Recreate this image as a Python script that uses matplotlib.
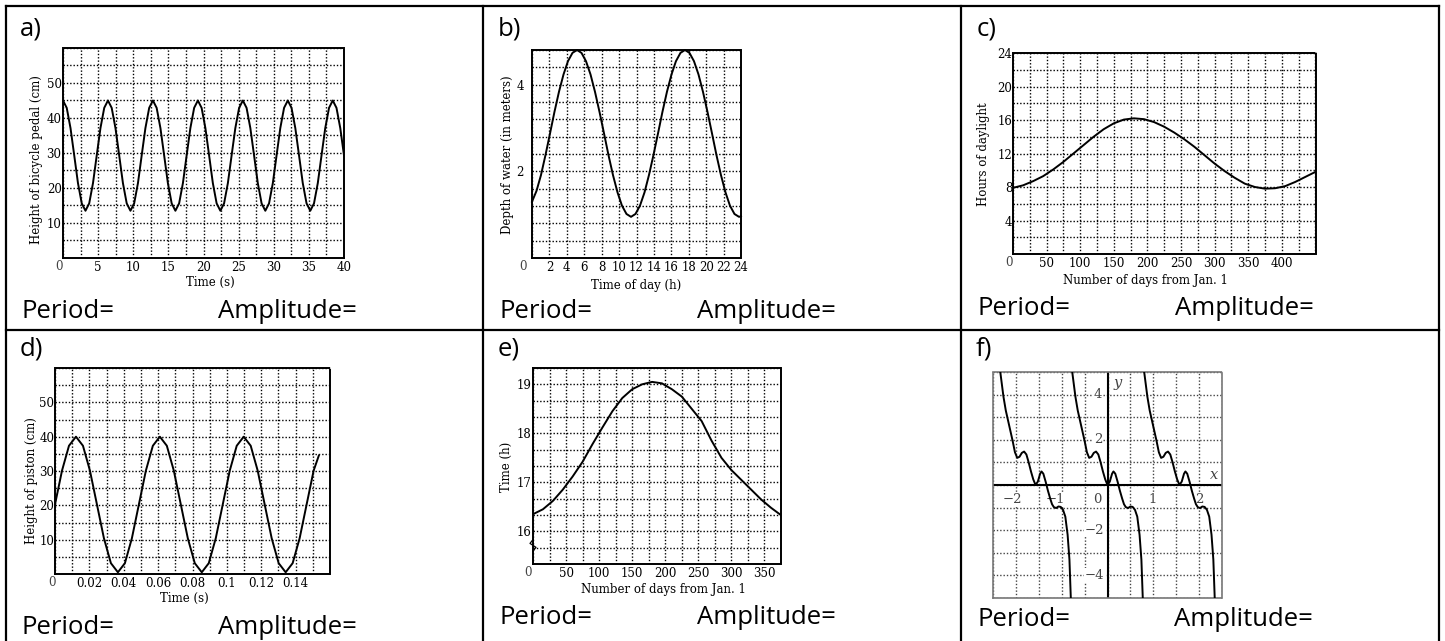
import numpy as np
import matplotlib
matplotlib.use("Agg")
import matplotlib.pyplot as plt
from matplotlib.lines import Line2D

# ---------------- data ----------------
# a) bicycle pedal
a_t = [0, 0.53, 1.07, 1.60, 2.13, 2.67, 3.20, 3.73, 4.27, 4.80, 5.33, 5.87,
       6.40, 6.93, 7.47, 8.00, 8.53, 9.07, 9.60, 10.13, 10.67, 11.20, 11.73, 12.27,
       12.80, 13.33, 13.87, 14.40, 14.93, 15.47, 16.00, 16.53, 17.07, 17.60, 18.13, 18.67,
       19.20, 19.73, 20.27, 20.80, 21.33, 21.87, 22.40, 22.93, 23.47, 24.00, 24.53, 25.07,
       25.60, 26.13, 26.67, 27.20, 27.73, 28.27, 28.80, 29.33, 29.87, 30.40, 30.93, 31.47,
       32.00, 32.53, 33.07, 33.60, 34.13, 34.67, 35.20, 35.73, 36.27, 36.80, 37.33, 37.87,
       38.40, 38.93, 39.47, 40.00]
a_h = [45.0, 42.9, 37.1, 29.3, 21.4, 15.6, 13.5, 15.6, 21.4, 29.3, 37.1, 42.9,
       45.0, 42.9, 37.1, 29.3, 21.4, 15.6, 13.5, 15.6, 21.4, 29.3, 37.1, 42.9,
       45.0, 42.9, 37.1, 29.3, 21.4, 15.6, 13.5, 15.6, 21.4, 29.3, 37.1, 42.9,
       45.0, 42.9, 37.1, 29.3, 21.4, 15.6, 13.5, 15.6, 21.4, 29.3, 37.1, 42.9,
       45.0, 42.9, 37.1, 29.3, 21.4, 15.6, 13.5, 15.6, 21.4, 29.3, 37.1, 42.9,
       45.0, 42.9, 37.1, 29.3, 21.4, 15.6, 13.5, 15.6, 21.4, 29.3, 37.1, 42.9,
       45.0, 42.9, 37.1, 29.3]
a_xticks = [5, 10, 15, 20, 25, 30, 35, 40]
a_yticks = [10, 20, 30, 40, 50]

# b) depth of water
b_t = [0, 0.52, 1.03, 1.55, 2.07, 2.58, 3.10, 3.62, 4.13, 4.65, 5.17, 5.68,
       6.20, 6.72, 7.23, 7.75, 8.27, 8.78, 9.30, 9.82, 10.33, 10.85, 11.37, 11.88,
       12.40, 12.92, 13.43, 13.95, 14.47, 14.98, 15.50, 16.02, 16.53, 17.05, 17.57, 18.08,
       18.60, 19.12, 19.63, 20.15, 20.67, 21.18, 21.70, 22.22, 22.73, 23.25, 23.77, 24.0]
b_d = [1.30, 1.55, 1.913, 2.377, 2.875, 3.373, 3.838, 4.236, 4.542, 4.734, 4.800, 4.734,
       4.542, 4.236, 3.838, 3.373, 2.875, 2.377, 1.913, 1.514, 1.208, 1.016, 0.950, 1.016,
       1.208, 1.514, 1.913, 2.377, 2.875, 3.373, 3.838, 4.236, 4.542, 4.734, 4.800, 4.734,
       4.542, 4.236, 3.838, 3.373, 2.875, 2.377, 1.913, 1.514, 1.208, 1.016, 0.950, 0.963]
b_xticks = [2, 4, 6, 8, 10, 12, 14, 16, 18, 20, 22, 24]
b_yticks = [2, 4]

# c) hours of daylight
c_day = [0, 15, 30, 45, 60, 75, 90, 105, 120, 135, 150, 165, 180, 195, 210, 225,
         240, 255, 270, 285, 300, 315, 330, 345, 360, 375, 390, 405, 420, 435, 450]
c_hours = [7.9, 8.2, 8.7, 9.3, 10.1, 11.0, 12.0, 13.0, 14.0, 14.9, 15.6, 16.05, 16.2, 16.1,
           15.75, 15.2, 14.5, 13.7, 12.8, 11.8, 10.8, 9.9, 9.1, 8.4, 8.0, 7.8, 7.85, 8.1,
           8.6, 9.2, 9.8]
c_xticks = [50, 100, 150, 200, 250, 300, 350, 400]
c_yticks = [4, 8, 12, 16, 20, 24]

# d) height of piston
d_t = [0, 0.00407, 0.00813, 0.0122, 0.01627, 0.02033, 0.0244, 0.02847, 0.03253, 0.0366,
       0.04067, 0.04473, 0.0488, 0.05287, 0.05693, 0.061, 0.06507, 0.06913, 0.0732,
       0.07727, 0.08133, 0.0854, 0.08947, 0.09353, 0.0976, 0.10167, 0.10573, 0.1098,
       0.11387, 0.11793, 0.122, 0.12607, 0.13013, 0.1342, 0.13827, 0.14233, 0.1464,
       0.15047, 0.1535]
d_h = [20.25, 30.1, 37.35, 40.0, 37.35, 30.1, 20.25, 10.4, 3.15, 0.5, 3.15, 10.4,
       20.25, 30.1, 37.35, 40.0, 37.35, 30.1, 20.25, 10.4, 3.15, 0.5, 3.15, 10.4,
       20.25, 30.1, 37.35, 40.0, 37.35, 30.1, 20.25, 10.4, 3.15, 0.5, 3.15, 10.4,
       20.25, 30.1, 34.5]
d_xticks = [0.02, 0.04, 0.06, 0.08, 0.1, 0.12, 0.14]
d_xticklabels = ["0.02", "0.04", "0.06", "0.08", "0.1", "0.12", "0.14"]
d_yticks = [10, 20, 30, 40, 50]

# e) sunset time
e_day = [0, 15, 30, 45, 60, 75, 90, 105, 120, 135, 150, 165, 180, 195, 210, 225,
         240, 255, 270, 285, 300, 315, 330, 345, 360, 375]
e_time = [16.35, 16.45, 16.62, 16.85, 17.12, 17.42, 17.78, 18.12, 18.45, 18.72, 18.9,
          19.0, 19.05, 19.02, 18.9, 18.75, 18.5, 18.25, 17.85, 17.5, 17.25, 17.05,
          16.85, 16.65, 16.48, 16.33]
e_xticks = [50, 100, 150, 200, 250, 300, 350]
e_yticks = [16, 17, 18, 19]

# f) periodic branches (one branch shape, repeated at the branch centres)
f_u = [-0.77, -0.70, -0.65, -0.60, -0.55, -0.50, -0.45, -0.40, -0.35, -0.30, -0.25,
       -0.20, -0.15, -0.10, -0.05, 0.00, 0.05, 0.10, 0.13, 0.17, 0.22, 0.27, 0.32,
       0.36, 0.40, 0.45, 0.50, 0.55, 0.60, 0.65, 0.70, 0.74, 0.77]
f_y = [5.0, 3.9, 3.3, 2.85, 2.4, 1.95, 1.45, 1.2, 1.25, 1.42, 1.48, 1.35, 1.0, 0.6,
       0.25, 0.0, 0.15, 0.5, 0.6, 0.5, 0.15, -0.25, -0.6, -0.85, -0.98, -1.02, -0.95,
       -0.97, -1.1, -1.4, -2.2, -3.3, -5.0]
f_centers = [-1.571, 0.0, 1.571]

# ---------------- figure ----------------
W, H = 1445, 641
plt.rcParams["font.family"] = ["DejaVu Serif"]
SANS = ["Open Sans", "DejaVu Sans"]
fig = plt.figure(figsize=(W / 100, H / 100), dpi=100)


def fx(x):
    return x / W


def fy(y):
    return 1 - y / H


def fline(x0, y0, x1, y1):
    fig.add_artist(Line2D([fx(x0), fx(x1)], [fy(y0), fy(y1)], color="black",
                          lw=1.6, transform=fig.transFigure, solid_capstyle="projecting"))


def ftext(x, y, s, **kw):
    fig.text(fx(x), fy(y), s, **kw)


# table lines
fline(6, 6, 1438.5, 6)
fline(6, 329.5, 1438.5, 329.5)
fline(6, 6, 6, 641)
fline(483, 6, 483, 641)
fline(961, 6, 961, 641)
fline(1438.5, 6, 1438.5, 641)

# panel letters and captions
for lab, x, y in [("a)", 20, 36), ("b)", 498, 36), ("c)", 977, 36),
                  ("d)", 20, 356), ("e)", 498, 356), ("f)", 976, 356)]:
    ftext(x, y, lab, fontsize=18.5, family=SANS, va="baseline", ha="left")
for px, ax_, y in [(21, 218, 318), (499, 697, 318), (977, 1175, 315),
                   (21, 218, 634), (499, 697, 624), (977, 1174, 626)]:
    ftext(px, y, "Period=", fontsize=18.5, family=SANS, va="baseline", ha="left")
    ftext(ax_, y, "Amplitude=", fontsize=18.5, family=SANS, va="baseline", ha="left")

GRID = dict(color="#000000", lw=1.0, ls=(0, (1, 1.4)), zorder=1)
FS = 8.5


def axes_px(x0, y0, x1, y1):
    return fig.add_axes([fx(x0), fy(y1), (x1 - x0) / W, (y1 - y0) / H])


def chart(box, xlim, ylim, xstep, ystep, xticks, yticks, xtl=None, ytl=None,
          xpad=2.5, ypad=1, zero=None, xlabel=None, ylabel=None):
    ax = axes_px(*box)
    ax.set_xlim(xlim)
    ax.set_ylim(ylim)
    for gx in np.arange(xlim[0], xlim[1] + 1e-9, xstep):
        ax.axvline(gx, **GRID)
    for gy in np.arange(ylim[0], ylim[1] + 1e-9, ystep):
        ax.axhline(gy, **GRID)
    ax.set_xticks(xticks, xtl if xtl is not None else [str(v) for v in xticks])
    ax.set_yticks(yticks, ytl if ytl is not None else [str(v) for v in yticks])
    ax.tick_params(axis="x", length=0, labelsize=FS, pad=xpad)
    ax.tick_params(axis="y", length=0, labelsize=FS, pad=ypad)
    for s in ax.spines.values():
        s.set_linestyle((0, (1, 1)))
        s.set_linewidth(1.4)
        s.set_color("#000000")
    if zero is not None:
        ftext(zero[0], zero[1], "0", fontsize=FS, ha="center", va="center", color="#444444")
    if xlabel is not None:
        ftext(xlabel[0], xlabel[1], xlabel[2], fontsize=FS, ha="center", va="center")
    if ylabel is not None:
        ftext(ylabel[0], ylabel[1], ylabel[2], fontsize=FS, ha="center", va="center",
              rotation=90)
    return ax


LINE = dict(color="black", lw=1.4, zorder=3, solid_joinstyle="round")

# a)
ax = chart((63, 48, 344, 258), (0, 40), (0, 60), 2.5, 5, a_xticks, a_yticks,
           zero=(59, 266), xlabel=(210, 282, "Time (s)"),
           ylabel=(37, 160, "Height of bicycle pedal (cm)"))
ax.plot(a_t, a_h, **LINE)

# b)
ax = chart((532, 50, 741, 258), (0, 24), (0, 4.8), 2, 0.4, b_xticks, b_yticks,
           ypad=6, zero=(523, 266), xlabel=(636, 285, "Time of day (h)"),
           ylabel=(508, 155, "Depth of water (in meters)"))
ax.plot(b_t, b_d, clip_on=False, **LINE)

# c)
ax = chart((1013, 53, 1316, 254), (0, 451), (0, 24), 25, 2, c_xticks, c_yticks,
           ypad=0.5, zero=(1009, 263), xlabel=(1145, 280, "Number of days from Jan. 1"),
           ylabel=(984, 154, "Hours of daylight"))
ax.plot(c_day, c_hours, **LINE)

# d)
ax = chart((55, 368, 330, 574), (0, 0.16), (0, 60), 0.01, 5, d_xticks, d_yticks,
           xtl=d_xticklabels, ypad=0.5, zero=(52, 582), xlabel=(184, 598, "Time (s)"),
           ylabel=(31, 481, "Height of piston (cm)"))
ax.plot(d_t, d_h, **LINE)

# e)
ax = chart((533, 368, 781, 564), (0, 375), (15 + 1 / 3, 19 + 1 / 3), 25, 1 / 3,
           e_xticks, e_yticks, ypad=1, zero=(528, 572),
           xlabel=(663, 589, "Number of days from Jan. 1"),
           ylabel=(506, 467, "Time (h)"))
ax.plot(e_day, e_time, **LINE)
ax.plot([0, -0.012, 0.012, 0], [0.125, 0.105, 0.085, 0.065], transform=ax.transAxes,
        color="black", lw=0.9, clip_on=False, zorder=4)

# f)
ax = axes_px(993, 372, 1222, 598)
ax.set_xlim(-2.5, 2.5)
ax.set_ylim(-5, 5)
FG = dict(color="#444444", lw=1.0, ls=(0, (1, 1.4)), zorder=1)
for gx in np.arange(-2.5, 2.5 + 1e-9, 0.5):
    ax.axvline(gx, **FG)
for gy in np.arange(-5, 5 + 1e-9, 1):
    ax.axhline(gy, **FG)
ax.set_xticks([])
ax.set_yticks([])
for s in ax.spines.values():
    s.set_linestyle((0, (1, 1)))
    s.set_linewidth(1.2)
    s.set_color("#777777")
ax.axhline(0, color="black", lw=1.5, zorder=2)
ax.axvline(0, color="black", lw=1.5, zorder=2)
BOX = dict(facecolor="white", edgecolor="none", pad=0.6)
for s, x, y in [("\u22122", -2.08, -0.62), ("\u22121", -1.14, -0.62), ("0", -0.22, -0.62),
                ("1", 0.98, -0.62), ("2", 2.0, -0.62), ("4", -0.21, 4.0), ("2", -0.21, 2.0),
                ("\u22122", -0.29, -2.0), ("\u22124", -0.29, -4.0)]:
    ax.text(x, y, s, fontsize=9.5, ha="center", va="center", color="#444444", bbox=BOX,
            zorder=2.5)
ax.text(0.22, 4.5, "y", fontsize=10.5, style="italic", ha="center", va="center",
        color="#444444", bbox=BOX, zorder=2.5)
ax.text(2.33, 0.44, "x", fontsize=10.5, style="italic", ha="center", va="center",
        color="#444444", bbox=BOX, zorder=2.5)
for c in f_centers:
    ax.plot([u + c for u in f_u], f_y, **LINE)

fig.savefig("out.png", dpi=100)
